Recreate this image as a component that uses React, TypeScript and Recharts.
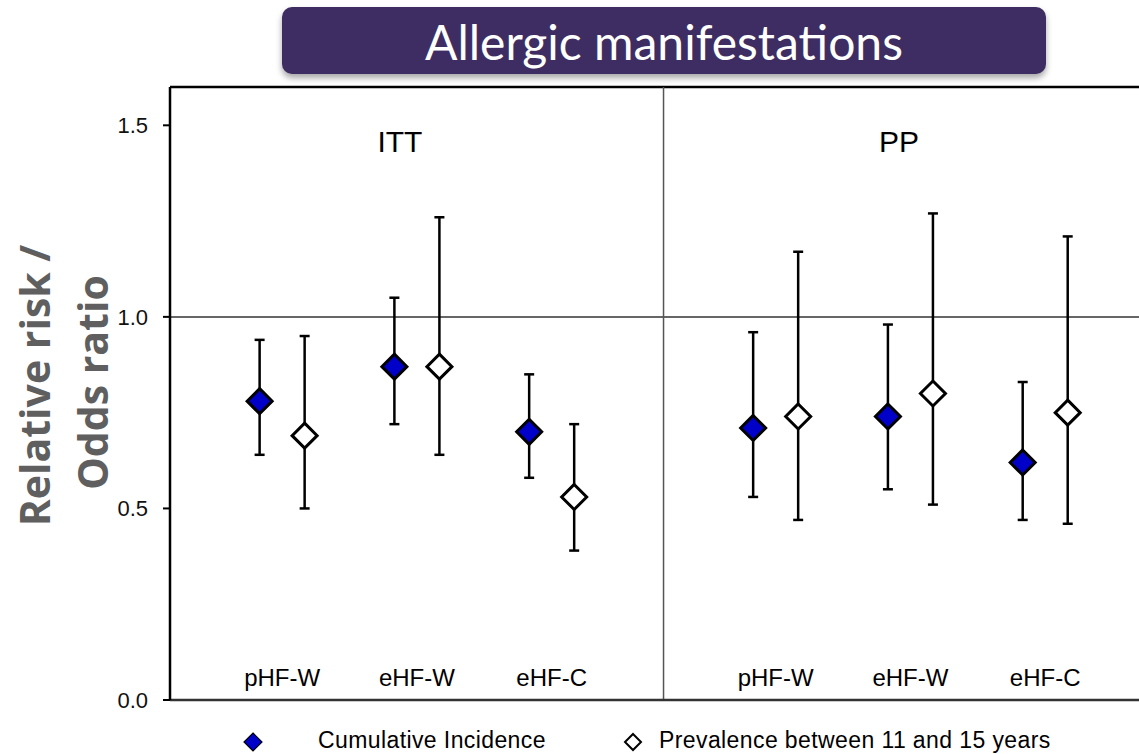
import React from 'react';
import {
  ScatterChart,
  Scatter,
  XAxis,
  YAxis,
  ErrorBar,
  ReferenceLine,
  ReferenceDot,
  Legend,
} from 'recharts';

// ---------- data ----------
const categories = ['pHF-W', 'eHF-W', 'eHF-C'];
const analyses = ['ITT', 'PP'];
const yTicks = [0, 0.5, 1.0, 1.5];

// Cumulative Incidence (filled diamonds)
const ittCumEst = [0.78, 0.87, 0.7];
const ittCumLow = [0.64, 0.72, 0.58];
const ittCumHigh = [0.94, 1.05, 0.85];
const ppCumEst = [0.71, 0.74, 0.62];
const ppCumLow = [0.53, 0.55, 0.47];
const ppCumHigh = [0.96, 0.98, 0.83];

// Prevalence between 11 and 15 years (open diamonds)
const ittPrevEst = [0.69, 0.87, 0.53];
const ittPrevLow = [0.5, 0.64, 0.39];
const ittPrevHigh = [0.95, 1.26, 0.72];
const ppPrevEst = [0.74, 0.8, 0.75];
const ppPrevLow = [0.47, 0.51, 0.46];
const ppPrevHigh = [1.17, 1.27, 1.21];

// ---------- layout (x in "group spacing" units) ----------
const PANEL_WIDTH = 3.662;
const FIRST_GROUP = 0.832;
const PAIR_OFFSET = 0.167;
const X_MAX = 7.19;
const Y_MAX = 1.6;

const groupX = (a: number, i: number) => a * PANEL_WIDTH + FIRST_GROUP + i;

const build = (est: number[][], low: number[][], high: number[][], shift: number) =>
  analyses.flatMap((_, ai) =>
    categories.map((_c, ci) => {
      const v = est[ai][ci];
      return {
        x: groupX(ai, ci) + shift,
        y: v,
        err: [v - low[ai][ci], high[ai][ci] - v],
      };
    })
  );

const cumData = build([ittCumEst, ppCumEst], [ittCumLow, ppCumLow], [ittCumHigh, ppCumHigh], -PAIR_OFFSET);
const prevData = build([ittPrevEst, ppPrevEst], [ittPrevLow, ppPrevLow], [ittPrevHigh, ppPrevHigh], PAIR_OFFSET);

const groupTicks = analyses.flatMap((_, ai) => categories.map((_c, ci) => groupX(ai, ci)));
const labelFor = (v: number) => {
  let best = 0;
  groupTicks.forEach((t, i) => {
    if (Math.abs(t - v) < Math.abs(groupTicks[best] - v)) best = i;
  });
  return categories[best % categories.length];
};

const FONT = '"Liberation Sans", Arial, sans-serif';
const BLUE = '#0000C8';

const makeDiamond = (fill: string) => (props: any) => {
  const { cx, cy } = props;
  const r = 12.5;
  return (
    <polygon
      points={`${cx},${cy - r} ${cx + r},${cy} ${cx},${cy + r} ${cx - r},${cy}`}
      fill={fill}
      stroke="#000"
      strokeWidth={3}
    />
  );
};

const CategoryTick = (props: any) => {
  const { x, y, payload } = props;
  return (
    <text x={x} y={y - 14} textAnchor="middle" fontSize={24} fontFamily={FONT} fill="#000">
      {labelFor(payload.value)}
    </text>
  );
};

const YLabel = (props: any) => {
  const vb = props.viewBox || { x: 100, y: 87, width: 70, height: 613 };
  const cy = vb.y + vb.height / 2 - 8;
  const x1 = vb.x - 50;
  const x2 = vb.x + 8;
  const style = { fontFamily: '"Open Sans", sans-serif', fontWeight: 700, fontSize: 41, fill: '#5f5f5f' } as any;
  return (
    <g>
      <text x={x1} y={cy} transform={`rotate(-90 ${x1} ${cy})`} textAnchor="middle" style={style}>
        Relative risk /
      </text>
      <text x={x2} y={cy - 3} transform={`rotate(-90 ${x2} ${cy - 3})`} textAnchor="middle" style={style}>
        Odds ratio
      </text>
    </g>
  );
};

const LegendContent = () => (
  <div
    style={{
      position: 'relative',
      width: 1139,
      height: 24,
      fontFamily: FONT,
      fontSize: 23,
      letterSpacing: 0.4,
      color: '#000',
    }}
  >
    <svg style={{ position: 'absolute', left: 243, top: 4 }} width={20} height={20}>
      <polygon points="10,1 19,10 10,19 1,10" fill={BLUE} stroke="#000" strokeWidth={1.2} />
    </svg>
    <span style={{ position: 'absolute', left: 318, top: 0, lineHeight: '24px', whiteSpace: 'nowrap' }}>
      Cumulative Incidence
    </span>
    <svg style={{ position: 'absolute', left: 623, top: 4 }} width={20} height={20}>
      <polygon points="10,2 18,10 10,18 2,10" fill="#fff" stroke="#000" strokeWidth={2} />
    </svg>
    <span style={{ position: 'absolute', left: 659, top: 0, lineHeight: '24px', whiteSpace: 'nowrap' }}>
      Prevalence between 11 and 15 years
    </span>
  </div>
);

export default function App() {
  return (
    <div
      style={{
        position: 'absolute',
        left: 0,
        top: 0,
        width: 1139,
        height: 754,
        background: '#fff',
        overflow: 'hidden',
      }}
    >
      <ScatterChart width={1139} height={754} margin={{ top: 87, right: 0, bottom: 52, left: 100 }}>
        <XAxis
          type="number"
          dataKey="x"
          domain={[0, X_MAX]}
          ticks={groupTicks}
          interval={0}
          height={2}
          tickSize={0}
          tickMargin={0}
          tickLine={false}
          tick={<CategoryTick />}
          axisLine={{ stroke: '#333', strokeWidth: 2.5 }}
        />
        <YAxis
          type="number"
          dataKey="y"
          domain={[0, Y_MAX]}
          ticks={yTicks}
          interval={0}
          width={70}
          tickSize={7}
          tickMargin={15}
          tickFormatter={(v: number) => v.toFixed(1)}
          tick={{ fontSize: 22, fontFamily: FONT, fill: '#111' }}
          tickLine={{ stroke: '#000', strokeWidth: 2 }}
          axisLine={{ stroke: '#000', strokeWidth: 2.5 }}
          label={YLabel}
        />
        <ReferenceLine y={Y_MAX} stroke="#000" strokeWidth={2.5} />
        <ReferenceLine y={1} stroke="#333" strokeWidth={1.5} />
        <ReferenceLine x={PANEL_WIDTH} stroke="#555" strokeWidth={1.5} />
        <ReferenceDot
          x={1.706}
          y={1.459}
          r={0}
          fill="none"
          stroke="none"
          label={{ value: analyses[0], position: 'center', fontSize: 30, fontFamily: FONT, fill: '#000' }}
        />
        <ReferenceDot
          x={5.41}
          y={1.459}
          r={0}
          fill="none"
          stroke="none"
          label={{ value: analyses[1], position: 'center', fontSize: 30, fontFamily: FONT, fill: '#000' }}
        />
        <Legend
          layout="horizontal"
          verticalAlign="middle"
          align="center"
          wrapperStyle={{ position: 'absolute', top: 728, left: 0, width: 1139, height: 24 }}
          content={<LegendContent />}
        />
        <Scatter name="Cumulative Incidence" data={cumData} shape={makeDiamond(BLUE)} isAnimationActive={false}>
          <ErrorBar dataKey="err" direction="y" width={5} stroke="#000" strokeWidth={2.5} />
        </Scatter>
        <Scatter
          name="Prevalence between 11 and 15 years"
          data={prevData}
          shape={makeDiamond('#fff')}
          isAnimationActive={false}
        >
          <ErrorBar dataKey="err" direction="y" width={5} stroke="#000" strokeWidth={2.5} />
        </Scatter>
      </ScatterChart>
      <div
        style={{
          position: 'absolute',
          left: 282,
          top: 7,
          width: 764,
          height: 67,
          background: '#3E2D62',
          borderRadius: 10,
          boxShadow: '0 4px 6px rgba(0,0,0,0.35)',
          color: '#fff',
          fontFamily: 'Lato, "Open Sans", sans-serif',
          fontSize: 48,
          lineHeight: '70px',
          textAlign: 'center',
          whiteSpace: 'nowrap',
        }}
      >
        Allergic manifestations
      </div>
    </div>
  );
}
